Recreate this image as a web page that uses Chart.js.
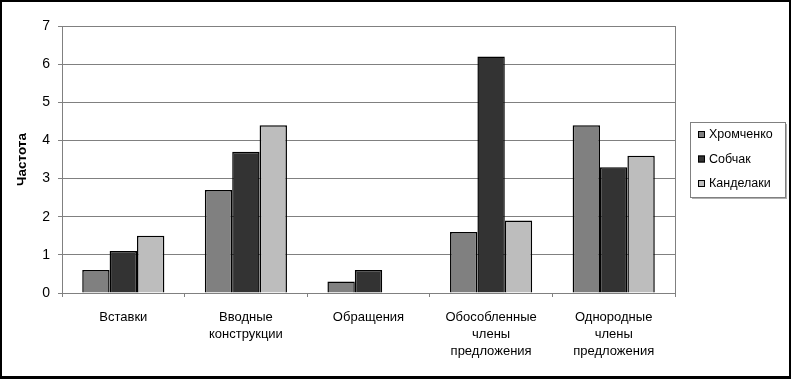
<!DOCTYPE html>
<html>
<head>
<meta charset="utf-8">
<script src="https://cdn.jsdelivr.net/npm/chart.js@4/dist/chart.umd.min.js"></script>
<style>
    body { margin: 0; background: #fff; }
    #wrap { width: 791px; height: 379px; position: relative; }
</style>
</head>
<body>
<div id="wrap"><canvas id="chart"></canvas></div>
<script>
// Chart data
const categories = [
    'Вставки',
    ['Вводные', 'конструкции'],
    'Обращения',
    ['Обособленные', 'члены', 'предложения'],
    ['Однородные', 'члены', 'предложения']
];
const seriesNames = ['Хромченко', 'Собчак', 'Канделаки'];
const khromchenko = [0.6, 2.7, 0.3, 1.6, 4.4];
const sobchak = [1.1, 3.7, 0.6, 6.2, 3.3];
const kandelaki = [1.5, 4.4, 0, 1.9, 3.6];
const seriesColors = ['#808080', '#333333', '#bdbdbd'];
const yTicks = [0, 1, 2, 3, 4, 5, 6, 7];

const FONT = '"Liberation Sans", Arial, sans-serif';

// Frame, plot border and legend box
const framePlugin = {
    id: 'frame',
    beforeDatasetsDraw(chart) {
        const { ctx, chartArea } = chart;
        ctx.save();
        ctx.strokeStyle = '#808080';
        ctx.lineWidth = 1;
        ctx.beginPath();
        ctx.moveTo(Math.round(chartArea.right) + 0.5, chartArea.top);
        ctx.lineTo(Math.round(chartArea.right) + 0.5, chartArea.bottom);
        ctx.stroke();
        ctx.restore();
    },
    afterDraw(chart) {
        const ctx = chart.ctx;
        ctx.save();
        // outer black border
        ctx.strokeStyle = '#000';
        ctx.lineWidth = 2;
        ctx.strokeRect(1, 1, chart.width - 2, chart.height - 3);
        ctx.fillStyle = '#000';
        ctx.fillRect(0, chart.height - 3, chart.width, 3);

        // legend
        const lx = 690, ly = 122, lw = 95, lh = 75;
        ctx.fillStyle = '#b0b0b0';
        ctx.fillRect(lx + 2, ly + 2, lw, lh);
        ctx.fillStyle = '#fff';
        ctx.fillRect(lx, ly, lw, lh);
        ctx.strokeStyle = '#808080';
        ctx.lineWidth = 1;
        ctx.strokeRect(lx + 0.5, ly + 0.5, lw, lh);

        ctx.font = '12.5px ' + FONT;
        ctx.textBaseline = 'middle';
        chart.data.datasets.forEach((ds, i) => {
            const y = 135 + i * 24.5;
            ctx.fillStyle = ds.backgroundColor;
            ctx.fillRect(698, y - 4, 7, 7);
            ctx.strokeStyle = '#000';
            ctx.strokeRect(698.5, y - 3.5, 6, 6);
            ctx.fillStyle = '#000';
            ctx.fillText(ds.label, 709, y);
        });
        ctx.restore();
    }
};

const ctx = document.getElementById('chart').getContext('2d');
const chart = new Chart(ctx, {
    type: 'bar',
    data: {
        labels: categories,
        datasets: [khromchenko, sobchak, kandelaki].map((values, i) => ({
            label: seriesNames[i],
            data: values,
            backgroundColor: seriesColors[i],
            borderColor: '#000',
            borderWidth: 1.5,
            borderSkipped: 'bottom',
            categoryPercentage: 0.67,
            barPercentage: 1
        }))
    },
    options: {
        responsive: true,
        maintainAspectRatio: false,
        animation: false,
        layout: {
            padding: { top: 26, right: 116, bottom: 0, left: 0 }
        },
        plugins: {
            legend: { display: false },
            tooltip: { enabled: false }
        },
        scales: {
            x: {
                afterFit: (s) => { s.height = 86; },
                grid: {
                    offset: true,
                    drawOnChartArea: false,
                    color: '#808080',
                    tickLength: 4
                },
                border: { color: '#808080' },
                ticks: {
                    color: '#000',
                    padding: 12,
                    maxRotation: 0,
                    autoSkip: false,
                    font: { family: FONT, size: 13, lineHeight: 1.3 }
                }
            },
            y: {
                min: 0,
                max: 7,
                afterFit: (s) => { s.width = 62; },
                afterBuildTicks: (s) => { s.ticks = yTicks.map(v => ({ value: v })); },
                grid: {
                    color: '#808080',
                    tickLength: 4
                },
                border: { color: '#808080' },
                ticks: {
                    color: '#000',
                    padding: 8,
                    font: { family: FONT, size: 14 }
                },
                title: {
                    display: true,
                    text: 'Частота',
                    color: '#000',
                    padding: { top: 14, bottom: 0 },
                    font: { family: FONT, size: 13.5, weight: 'bold' }
                }
            }
        }
    },
    plugins: [framePlugin]
});
</script>
</body>
</html>
